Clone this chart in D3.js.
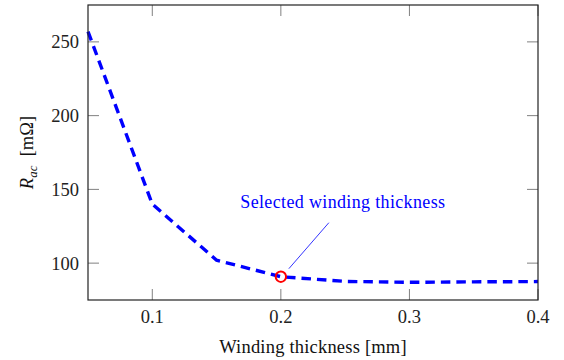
<!DOCTYPE html>
<html><head><meta charset="utf-8">
<script src="https://cdn.jsdelivr.net/npm/d3@7"></script>
<style>body{margin:0;background:#fff}svg{display:block}</style>
</head><body>
<svg id="c" width="564" height="360"></svg>
<script>
const thickness = [0.05, 0.1, 0.15, 0.2, 0.25, 0.3, 0.35, 0.4];
const rac = [257, 140, 102, 90.8, 87.6, 87, 87.3, 87.5];
const xTicks = [0.1, 0.2, 0.3, 0.4];
const yTicks = [100, 150, 200, 250];
const selected = {x: 0.2, y: 90.8, label: "Selected winding thickness"};

const svg = d3.select("#c");
const L = 88, R = 538, T = 5, B = 300;
const x = d3.scaleLinear().domain([0.05, 0.4]).range([L, R]);
const y = d3.scaleLinear().domain([75, 275]).range([B, T]);
const font = "'Liberation Serif', 'DejaVu Serif', serif";
const tk = 11;

const g = svg.append("g");
const tickColor = "#808080";
xTicks.forEach(v => {
  g.append("line").attr("x1", x(v)).attr("x2", x(v)).attr("y1", B).attr("y2", B - tk).attr("stroke", tickColor).attr("stroke-width", 1);
  g.append("line").attr("x1", x(v)).attr("x2", x(v)).attr("y1", T).attr("y2", T + tk).attr("stroke", tickColor).attr("stroke-width", 1);
  g.append("text").attr("x", x(v)).attr("y", B + 23).attr("text-anchor", "middle")
    .attr("font-family", font).attr("font-size", 18.5).attr("fill", "#222").text(d3.format(".1f")(v));
});
yTicks.forEach(v => {
  g.append("line").attr("x1", L).attr("x2", L + tk).attr("y1", y(v)).attr("y2", y(v)).attr("stroke", tickColor).attr("stroke-width", 1);
  g.append("line").attr("x1", R).attr("x2", R - tk).attr("y1", y(v)).attr("y2", y(v)).attr("stroke", tickColor).attr("stroke-width", 1);
  g.append("text").attr("x", L - 9).attr("y", y(v) + 6.5).attr("text-anchor", "end")
    .attr("font-family", font).attr("font-size", 18.5).attr("fill", "#222").text(v);
});

const line = d3.line().x((d, i) => x(thickness[i])).y(d => y(d));
svg.append("path").datum(rac).attr("d", line).attr("fill", "none")
  .attr("stroke", "#0000ff").attr("stroke-width", 3.4).attr("stroke-dasharray", "9.5,6");

svg.append("rect").attr("x", L).attr("y", T).attr("width", R - L).attr("height", B - T)
  .attr("fill", "none").attr("stroke", "#222").attr("stroke-width", 1.2);

const cx = x(selected.x), cy = y(selected.y);
svg.append("line").attr("x1", cx + 8).attr("y1", cy - 8).attr("x2", cx + 48).attr("y2", cy - 54)
  .attr("stroke", "#0000ff").attr("stroke-width", 0.8);
svg.append("circle").attr("cx", cx).attr("cy", cy).attr("r", 5.2).attr("fill", "none")
  .attr("stroke", "#ff0000").attr("stroke-width", 2);
svg.append("text").attr("x", cx + 62).attr("y", cy - 69).attr("text-anchor", "middle")
  .attr("font-family", font).attr("font-size", 18).attr("letter-spacing", 0.35).attr("fill", "#0000ff").text(selected.label);

svg.append("text").attr("x", 313).attr("y", 353).attr("text-anchor", "middle")
  .attr("font-family", font).attr("font-size", 18.5).attr("letter-spacing", 0.2).attr("fill", "#111").text("Winding thickness [mm]");
const yl = svg.append("text").attr("transform", "translate(33," + ((T + B) / 2) + ") rotate(-90)")
  .attr("text-anchor", "middle").attr("font-family", font).attr("font-size", 18.5).attr("fill", "#111");
yl.append("tspan").attr("font-style", "italic").text("R");
yl.append("tspan").attr("font-style", "italic").attr("font-size", 13).attr("dy", 4).text("ac");
yl.append("tspan").attr("dy", -4).text("\u2002[m\u03A9]");
</script>
</body></html>
